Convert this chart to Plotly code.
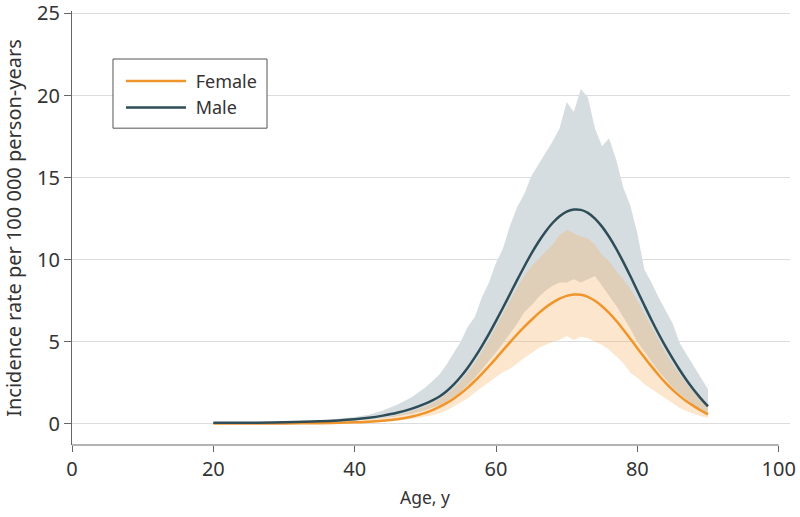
import plotly.graph_objects as go

# Ages (years)
age = [20, 25, 30, 35, 40, 42, 44, 46, 48, 50, 51, 52, 53, 54, 55, 56, 57, 58, 59, 60,
       61, 62, 63, 64, 65, 66, 67, 68, 69, 70, 71, 72, 73, 74, 75, 76, 77, 78, 79, 80,
       81, 82, 83, 84, 85, 86, 87, 88, 89, 90]

# Incidence rate per 100 000 person-years (modelled curves)
male_rate = [0.05, 0.06, 0.08, 0.14, 0.27, 0.36, 0.49, 0.66, 0.9, 1.22, 1.42, 1.66, 1.98, 2.38, 2.86, 3.41, 4.04, 4.73, 5.47, 6.26,
             7.08, 7.92, 8.76, 9.58, 10.36, 11.07, 11.7, 12.23, 12.64, 12.92, 13.05, 13.03, 12.85, 12.5, 12.01, 11.39, 10.67, 9.86, 9.0, 8.1,
             7.2, 6.32, 5.48, 4.69, 3.96, 3.27, 2.63, 2.05, 1.53, 1.05]
female_rate = [0.004, 0.008, 0.015, 0.03, 0.08, 0.12, 0.18, 0.27, 0.42, 0.66, 0.82, 1.02, 1.25, 1.52, 1.84, 2.2, 2.6, 3.04, 3.5, 3.98,
               4.48, 4.97, 5.45, 5.9, 6.32, 6.72, 7.08, 7.38, 7.62, 7.79, 7.87, 7.86, 7.73, 7.49, 7.16, 6.75, 6.27, 5.74, 5.18, 4.6,
               4.04, 3.49, 2.97, 2.49, 2.06, 1.68, 1.35, 1.07, 0.8, 0.57]

# 95% uncertainty bands
male_lo = [0.03, 0.04, 0.05, 0.09, 0.18, 0.24, 0.33, 0.45, 0.6, 0.82, 0.95, 1.12, 1.35, 1.62, 1.95, 2.35, 2.8, 3.3, 3.8, 4.35,
           4.9, 5.5, 6.1, 6.8, 7.2, 7.7, 8.1, 8.4, 8.6, 8.6, 8.8, 8.6, 8.8, 9.0, 8.4, 7.8, 7.2, 6.5, 5.8, 5.0,
           4.4, 3.8, 3.2, 2.7, 2.2, 1.8, 1.45, 1.1, 0.8, 0.6]
male_hi = [0.07, 0.09, 0.12, 0.2, 0.4, 0.55, 0.8, 1.15, 1.6, 2.2, 2.6, 3.0, 3.6, 4.3, 5.0, 5.9, 6.5, 7.7, 8.6, 9.8,
           10.7, 12.1, 13.2, 14.0, 15.1, 15.8, 16.5, 17.2, 18.0, 19.6, 19.0, 20.4, 19.9, 18.0, 16.9, 17.4, 16.1, 14.4, 13.3, 11.6,
           9.4, 8.6, 7.7, 6.9, 6.1, 4.9, 4.2, 3.5, 2.8, 2.1]
female_lo = [0.0, 0.005, 0.01, 0.02, 0.05, 0.08, 0.12, 0.18, 0.28, 0.42, 0.52, 0.64, 0.8, 1.05, 1.3, 1.55, 1.9, 2.2, 2.5, 2.85,
             3.15, 3.35, 3.7, 4.0, 4.3, 4.6, 4.8, 5.0, 5.1, 5.35, 5.1, 5.3, 5.2, 5.0, 4.8, 4.5, 4.1, 3.7, 3.1, 2.8,
             2.4, 2.1, 1.8, 1.5, 1.2, 0.95, 0.75, 0.6, 0.45, 0.35]
female_hi = [0.01, 0.02, 0.04, 0.07, 0.16, 0.24, 0.36, 0.52, 0.75, 1.05, 1.25, 1.5, 1.8, 2.15, 2.6, 3.1, 3.7, 4.4, 5.1, 5.9,
             6.7, 7.5, 8.3, 9.0, 9.6, 10.0, 10.5, 10.9, 11.5, 11.8, 11.6, 11.4, 11.3, 10.9, 10.3, 9.9, 9.3, 8.8, 8.2, 7.5,
             6.7, 5.9, 5.1, 4.3, 3.6, 3.0, 2.4, 1.9, 1.4, 0.95]

x_ticks = [0, 20, 40, 60, 80, 100]
y_ticks = [0, 5, 10, 15, 20, 25]

FONT = "Noto Sans"
TXT = "#333333"
AX = "#666666"
MALE = "#2E4D57"
FEMALE = "#F0952B"

fig = go.Figure()

# male band (opaque, hides grid)
fig.add_trace(go.Scatter(x=age, y=male_lo, mode="lines", line=dict(width=0),
                         showlegend=False, hoverinfo="skip"))
fig.add_trace(go.Scatter(x=age, y=male_hi, mode="lines", line=dict(width=0),
                         fill="tonexty", fillcolor="rgb(214,221,225)",
                         showlegend=False, hoverinfo="skip"))
# female band (translucent)
fig.add_trace(go.Scatter(x=age, y=female_lo, mode="lines", line=dict(width=0),
                         showlegend=False, hoverinfo="skip"))
fig.add_trace(go.Scatter(x=age, y=female_hi, mode="lines", line=dict(width=0),
                         fill="tonexty", fillcolor="rgba(245,172,88,0.3)",
                         showlegend=False, hoverinfo="skip"))

fig.add_trace(go.Scatter(x=age, y=female_rate, mode="lines", name="\u00a0Female",
                         line=dict(color=FEMALE, width=2.5, shape="spline")))
fig.add_trace(go.Scatter(x=age, y=male_rate, mode="lines", name="\u00a0Male",
                         line=dict(color=MALE, width=2.5, shape="spline")))

fig.update_layout(
    template="none",
    width=800, height=517,
    margin=dict(l=72, r=10, t=11, b=72, autoexpand=False),
    plot_bgcolor="white", paper_bgcolor="white",
    font=dict(family=FONT, size=19, color=TXT),
    showlegend=True,
    legend=dict(x=0.0682, y=0.8807, xanchor="left", yanchor="top",
                traceorder="normal",
                bgcolor="rgba(0,0,0,0)", borderwidth=0,
                font=dict(family=FONT, size=18, color=TXT),
                itemwidth=60, tracegroupgap=0),
    xaxis=dict(range=[0, 101.6], tickvals=x_ticks, ticktext=[str(v) for v in x_ticks],
               showgrid=False, zeroline=False, showline=False, automargin=False,
               ticks="outside", ticklen=6, tickcolor=AX, tickwidth=1,
               ticklabeloverflow="allow",
               tickfont=dict(family=FONT, size=20, color=TXT)),
    yaxis=dict(range=[-1.3, 25.15], tickvals=y_ticks, ticktext=[str(v) for v in y_ticks],
               showgrid=True, gridcolor="#dcdcdc", gridwidth=1, zeroline=False,
               showline=True, linecolor=AX, linewidth=1, automargin=False,
               ticks="outside", ticklen=7, tickcolor=AX, tickwidth=1,
               ticklabeloverflow="allow",
               tickfont=dict(family=FONT, size=20, color=TXT),
               title=dict(text="Incidence rate per 100 000 person-years",
                          font=dict(family=FONT, size=20, color=TXT), standoff=12)),
    shapes=[
        dict(type="line", xref="x", yref="paper", x0=0, x1=100, y0=0, y1=0,
             line=dict(color=AX, width=1)),
        dict(type="rect", xref="paper", yref="paper", x0=0.0571, x1=0.2716,
             y0=0.7300, y1=0.8894, line=dict(color="#555555", width=1),
             fillcolor="white", layer="above"),
    ],
    annotations=[dict(text="Age, y", xref="x", x=50, yref="paper", y=0,
                      yshift=-52, yanchor="middle", showarrow=False,
                      font=dict(family=FONT, size=17.5, color=TXT))],
)

fig.write_html("out.html", config={"displayModeBar": False},
               post_script="document.body.style.margin='0';")
